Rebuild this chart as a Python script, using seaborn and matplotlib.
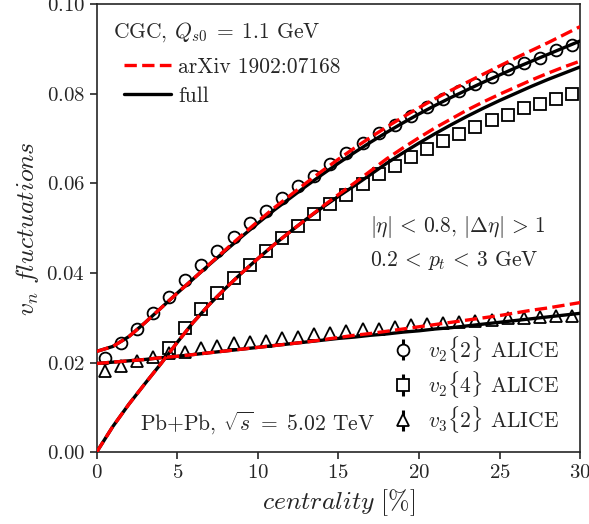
import numpy as np
import matplotlib
matplotlib.use("Agg")
import matplotlib.pyplot as plt
import seaborn as sns

# centrality grid for the model curves
cent = np.arange(0, 31)

v22_full = [0.0225, 0.0236, 0.0258, 0.0289, 0.0322, 0.0355, 0.0387, 0.0419, 0.0450, 0.0481,
            0.0511, 0.0540, 0.0567, 0.0594, 0.0620, 0.0645, 0.0669, 0.0692, 0.0714, 0.0735,
            0.0755, 0.0774, 0.0792, 0.0809, 0.0826, 0.0842, 0.0858, 0.0873, 0.0888, 0.0903, 0.0918]
v22_arxiv = [0.0225, 0.0236, 0.0258, 0.0289, 0.0322, 0.0355, 0.0387, 0.0420, 0.0452, 0.0484,
             0.0515, 0.0545, 0.0573, 0.0601, 0.0628, 0.0654, 0.0679, 0.0703, 0.0726, 0.0748,
             0.0769, 0.0789, 0.0808, 0.0826, 0.0844, 0.0862, 0.0880, 0.0897, 0.0914, 0.0932, 0.0950]
v24_full = [0.0, 0.0057, 0.0107, 0.0153, 0.0198, 0.0245, 0.0290, 0.0330, 0.0366, 0.0400,
            0.0432, 0.0463, 0.0492, 0.0520, 0.0546, 0.0571, 0.0595, 0.0620, 0.0645, 0.0668,
            0.0690, 0.0711, 0.0731, 0.0750, 0.0768, 0.0785, 0.0801, 0.0817, 0.0832, 0.0846, 0.0860]
v24_arxiv = [0.0, 0.0057, 0.0107, 0.0153, 0.0198, 0.0245, 0.0290, 0.0330, 0.0366, 0.0400,
             0.0432, 0.0463, 0.0492, 0.0520, 0.0548, 0.0575, 0.0601, 0.0628, 0.0655, 0.0679,
             0.0702, 0.0724, 0.0744, 0.0764, 0.0782, 0.0799, 0.0815, 0.0831, 0.0846, 0.0860, 0.0873]
v32_full = [0.0198, 0.0201, 0.0204, 0.0207, 0.0211, 0.0214, 0.0218, 0.0222, 0.0226, 0.0230,
            0.0234, 0.0238, 0.0242, 0.0246, 0.0250, 0.0254, 0.0257, 0.0261, 0.0264, 0.0268,
            0.0271, 0.0275, 0.0278, 0.0282, 0.0286, 0.0290, 0.0294, 0.0298, 0.0302, 0.0306, 0.0310]
v32_arxiv = [0.0198, 0.0201, 0.0204, 0.0207, 0.0211, 0.0214, 0.0218, 0.0222, 0.0226, 0.0230,
             0.0234, 0.0238, 0.0242, 0.0246, 0.0251, 0.0256, 0.0261, 0.0265, 0.0270, 0.0275,
             0.0280, 0.0285, 0.0290, 0.0295, 0.0300, 0.0305, 0.0311, 0.0317, 0.0322, 0.0328, 0.0334]

# ALICE data (bin centres)
x_alice = np.arange(0.5, 30, 1.0)
v22_alice = [0.0210, 0.0244, 0.0275, 0.0311, 0.0346, 0.0384, 0.0418, 0.0449, 0.0481, 0.0512,
             0.0538, 0.0567, 0.0594, 0.0616, 0.0643, 0.0668, 0.0690, 0.0712, 0.0730, 0.0750,
             0.0770, 0.0788, 0.0806, 0.0822, 0.0837, 0.0855, 0.0868, 0.0881, 0.0897, 0.0909]
x_v24 = np.arange(4.5, 30, 1.0)
v24_alice = [0.0233, 0.0277, 0.0320, 0.0355, 0.0389, 0.0418, 0.0449, 0.0478, 0.0505, 0.0532,
             0.0554, 0.0574, 0.0598, 0.0621, 0.0639, 0.0659, 0.0677, 0.0694, 0.0711, 0.0726,
             0.0742, 0.0753, 0.0768, 0.0777, 0.0789, 0.0799]
v32_alice = [0.0182, 0.0193, 0.0204, 0.0213, 0.0222, 0.0224, 0.0233, 0.0237, 0.0244, 0.0246,
             0.0248, 0.0255, 0.0257, 0.0264, 0.0266, 0.0271, 0.0274, 0.0276, 0.0280, 0.0283,
             0.0286, 0.0289, 0.0290, 0.0292, 0.0295, 0.0299, 0.0300, 0.0302, 0.0304, 0.0305]

sns.set_style("ticks")
plt.rcParams['font.family'] = 'serif'
plt.rcParams['font.serif'] = ['cmr10']
plt.rcParams['mathtext.fontset'] = 'cm'
plt.rcParams['axes.formatter.use_mathtext'] = True

fs = 15.5

fig, ax = plt.subplots(figsize=(5.89, 5.24), dpi=100)
fig.subplots_adjust(left=0.164, right=0.985, top=0.992, bottom=0.137)

mk = dict(color='k', mfc='white', mec='k', mew=1.3, ms=8.5, ls='none',
          elinewidth=2.2, capsize=0, zorder=2)
h1 = ax.errorbar(x_alice, v22_alice, yerr=0, marker='o', **mk)
h2 = ax.errorbar(x_v24, v24_alice, yerr=0, marker='s', **mk)
h3 = ax.errorbar(x_alice, v32_alice, yerr=0, marker='^', **mk)

for full, arx in [(v22_full, v22_arxiv), (v24_full, v24_arxiv), (v32_full, v32_arxiv)]:
    sns.lineplot(x=cent, y=full, color='k', lw=2.4, ax=ax, zorder=3)
    sns.lineplot(x=cent, y=arx, color='red', lw=2.4, ls='--', ax=ax, zorder=4)

ax.set_xlim(0, 30)
ax.set_ylim(0, 0.10)
ax.set_xticks([0, 5, 10, 15, 20, 25, 30])
ax.set_yticks([0.0, 0.02, 0.04, 0.06, 0.08, 0.10])
ax.tick_params(labelsize=15, length=5, width=1.2, direction='out')
for s in ax.spines.values():
    s.set_linewidth(1.2)
ax.set_xlabel(r'$centrality\ [\%]$', fontsize=18.5)
ax.set_ylabel(r'$v_n\ fluctuations$', fontsize=18.5)

ax.text(0.033, 0.9375, r'CGC, $Q_{s0}\;=\;1.1$ GeV', transform=ax.transAxes,
        fontsize=fs, va='center')
l_red, = ax.plot([], [], color='red', lw=2.4, ls='--')
l_blk, = ax.plot([], [], color='k', lw=2.4)
leg1 = ax.legend([l_red, l_blk], ['arXiv 1902:07168', 'full'], fontsize=fs,
                 loc='upper left', bbox_to_anchor=(0.056, 0.882), frameon=False,
                 borderpad=0, borderaxespad=0, handlelength=2.2, handletextpad=0.33,
                 labelspacing=0.45)
ax.add_artist(leg1)
ax.legend([h1, h2, h3], [r'$v_2\{2\}$ ALICE', r'$v_2\{4\}$ ALICE', r'$v_3\{2\}$ ALICE'],
          fontsize=fs, loc='lower right', bbox_to_anchor=(0.957, 0.038), frameon=False,
          borderpad=0, borderaxespad=0, handlelength=1.0, handletextpad=0.65,
          labelspacing=0.2)

ax.text(0.566, 0.503, r'$|\eta|\,<\,0.8$, $|\Delta\eta|\,>\,1$', transform=ax.transAxes,
        fontsize=fs, va='center')
ax.text(0.566, 0.429, r'$0.2\,<\,p_t\,<\,3$ GeV', transform=ax.transAxes, fontsize=fs,
        va='center')
ax.text(0.089, 0.065, r'Pb+Pb, $\sqrt{s}\;=\;5.02$ TeV', transform=ax.transAxes,
        fontsize=fs, va='center')

fig.savefig('out.png', dpi=100)
